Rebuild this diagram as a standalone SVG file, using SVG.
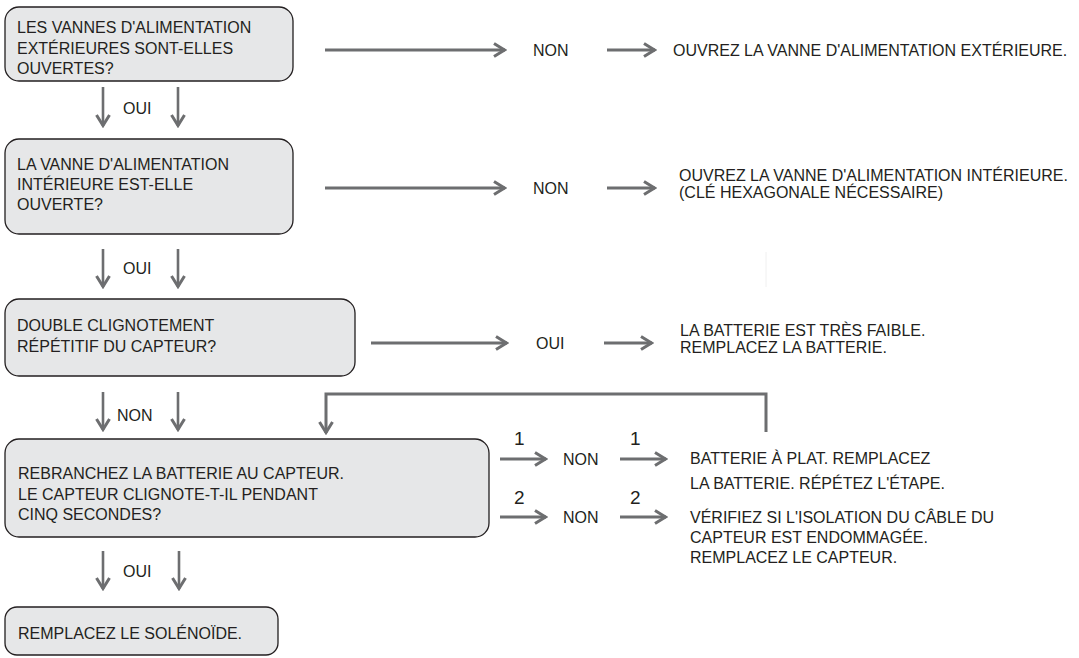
<svg xmlns="http://www.w3.org/2000/svg" width="1079" height="658" viewBox="0 0 1079 658">
<style>
.box{fill:#e6e7e8;stroke:#231f20;stroke-width:1.3}
.t{font-family:"Liberation Sans",Arial,Helvetica,sans-serif;font-size:16px;fill:#231f20}
.n{font-family:"Liberation Sans",Arial,Helvetica,sans-serif;font-size:19px;fill:#231f20}
.a{stroke:#6d6e70;stroke-width:3;fill:none;marker-end:url(#ah)}
.v{stroke:#6d6e70;stroke-width:2.6;fill:none;marker-end:url(#ah)}
</style>
<defs>
<marker id="ah" viewBox="0 0 14 16" refX="12.5" refY="8" markerWidth="14" markerHeight="16" markerUnits="userSpaceOnUse" orient="auto">
<path d="M1.5,1.5 L12,8 L1.5,14.5" fill="none" stroke="#6d6e70" stroke-width="3" stroke-linejoin="miter"/>
</marker>
</defs>
<rect width="1079" height="658" fill="#ffffff"/>

<g id="n1">
<rect class="box" x="5" y="7" width="288" height="74" rx="14"/>
<text class="t" x="17" y="33">LES VANNES D'ALIMENTATION</text>
<text class="t" x="17" y="54">EXTÉRIEURES SONT-ELLES</text>
<text class="t" x="17" y="74">OUVERTES?</text>
</g>
<g id="r1">
<text class="t" x="533" y="56">NON</text>
<text class="t" x="673" y="56">OUVREZ LA VANNE D'ALIMENTATION EXTÉRIEURE.</text>
</g>

<g id="n2">
<rect class="box" x="5" y="139" width="288" height="95" rx="14"/>
<text class="t" x="17" y="170">LA VANNE D'ALIMENTATION</text>
<text class="t" x="17" y="190">INTÉRIEURE EST-ELLE</text>
<text class="t" x="17" y="210">OUVERTE?</text>
</g>
<g id="r2">
<text class="t" x="533" y="194">NON</text>
<text class="t" x="679" y="181">OUVREZ LA VANNE D'ALIMENTATION INTÉRIEURE.</text>
<text class="t" x="679" y="198">(CLÉ HEXAGONALE NÉCESSAIRE)</text>
</g>

<g id="n3">
<rect class="box" x="5" y="299" width="350" height="77" rx="14"/>
<text class="t" x="17" y="331">DOUBLE CLIGNOTEMENT</text>
<text class="t" x="17" y="352">RÉPÉTITIF DU CAPTEUR?</text>
</g>
<g id="r3">
<text class="t" x="536" y="349">OUI</text>
<text class="t" x="680" y="336">LA BATTERIE EST TRÈS FAIBLE.</text>
<text class="t" x="680" y="353">REMPLACEZ LA BATTERIE.</text>
</g>

<g id="n4">
<rect class="box" x="5" y="439" width="484" height="98" rx="14"/>
<text class="t" x="18" y="479">REBRANCHEZ LA BATTERIE AU CAPTEUR.</text>
<text class="t" x="18" y="500">LE CAPTEUR CLIGNOTE-T-IL PENDANT</text>
<text class="t" x="18" y="520">CINQ SECONDES?</text>
</g>
<g id="r4a">
<text class="t" x="563" y="465">NON</text>
<text class="t" x="690" y="464">BATTERIE À PLAT. REMPLACEZ</text>
<text class="t" x="690" y="489">LA BATTERIE. RÉPÉTEZ L'ÉTAPE.</text>
</g>
<g id="r4b">
<text class="t" x="563" y="523">NON</text>
<text class="t" x="690" y="523">VÉRIFIEZ SI L'ISOLATION DU CÂBLE DU</text>
<text class="t" x="690" y="543">CAPTEUR EST ENDOMMAGÉE.</text>
<text class="t" x="690" y="563">REMPLACEZ LE CAPTEUR.</text>
</g>

<g id="n5">
<rect class="box" x="5" y="607" width="273" height="48" rx="12"/>
<text class="t" x="18" y="639">REMPLACEZ LE SOLÉNOÏDE.</text>
</g>

<g id="labels">
<text class="t" x="123" y="114">OUI</text>
<text class="t" x="123" y="274">OUI</text>
<text class="t" x="117" y="421">NON</text>
<text class="t" x="123" y="577">OUI</text>
<text class="n" x="514" y="445">1</text>
<text class="n" x="630" y="445">1</text>
<text class="n" x="514" y="504">2</text>
<text class="n" x="630" y="504">2</text>
</g>

<g id="connectors">
<line class="a" x1="325" y1="50" x2="505" y2="50"/>
<line class="a" x1="607" y1="50" x2="655" y2="50"/>
<line class="a" x1="325" y1="188" x2="505" y2="188"/>
<line class="a" x1="607" y1="188" x2="655" y2="188"/>
<line class="a" x1="371" y1="343" x2="507" y2="343"/>
<line class="a" x1="604" y1="343" x2="652" y2="343"/>
<line class="a" x1="500" y1="459" x2="546" y2="459"/>
<line class="a" x1="620" y1="459" x2="666" y2="459"/>
<line class="a" x1="500" y1="517" x2="546" y2="517"/>
<line class="a" x1="620" y1="517" x2="666" y2="517"/>
<path class="a" d="M766,432 V394 H326 V433"/>
<line class="v" x1="103" y1="87" x2="103" y2="126"/>
<line class="v" x1="178" y1="87" x2="178" y2="126"/>
<line class="v" x1="103" y1="249" x2="103" y2="287"/>
<line class="v" x1="178" y1="249" x2="178" y2="287"/>
<line class="v" x1="103" y1="392" x2="103" y2="430"/>
<line class="v" x1="178" y1="392" x2="178" y2="430"/>
<line class="v" x1="103" y1="551" x2="103" y2="589"/>
<line class="v" x1="179" y1="551" x2="179" y2="589"/>
<line x1="766" y1="252" x2="766" y2="287" stroke="#f0f0f0" stroke-width="1"/>
</g>
</svg>
